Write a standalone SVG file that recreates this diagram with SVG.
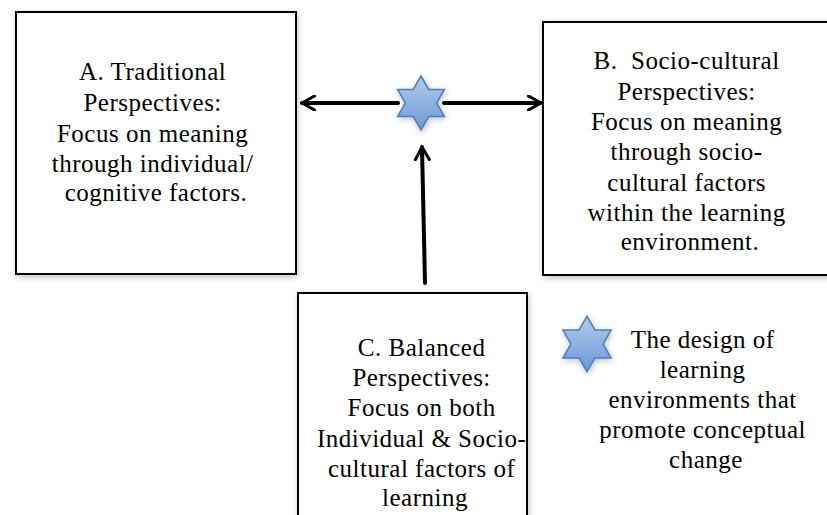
<svg xmlns="http://www.w3.org/2000/svg" width="827" height="515" viewBox="0 0 827 515">
  <defs>
    <filter id="soft" x="-10%" y="-10%" width="120%" height="120%">
      <feGaussianBlur in="SourceAlpha" stdDeviation="3"/>
      <feOffset dx="1" dy="2" result="b"/>
      <feComponentTransfer><feFuncA type="linear" slope="0.25"/></feComponentTransfer>
      <feMerge><feMergeNode/><feMergeNode in="SourceGraphic"/></feMerge>
    </filter>
    <linearGradient id="starFill" x1="0" y1="0" x2="0" y2="1">
      <stop offset="0" stop-color="#b4cbec"/>
      <stop offset="1" stop-color="#6a98d6"/>
    </linearGradient>
    <marker id="head" viewBox="0 0 12 12" refX="10" refY="6" markerWidth="4.2" markerHeight="4.2" orient="auto-start-reverse" markerUnits="strokeWidth">
      <path d="M1,1 L10,6 L1,11" fill="none" stroke="#000" stroke-width="2.2" stroke-linecap="round" stroke-linejoin="round"/>
    </marker>
    <!-- six-pointed star, radius 27, points up and down -->
    <polygon id="hexagram" points="0,-27 7.8,-13.5 23.4,-13.5 15.6,0 23.4,13.5 7.8,13.5 0,27 -7.8,13.5 -23.4,13.5 -15.6,0 -23.4,-13.5 -7.8,-13.5"/>
  </defs>
  <style>
    .box { fill: #ffffff; stroke: #000000; stroke-width: 2; }
    .label { font-family: "Liberation Serif", "Times New Roman", serif; font-size: 25px; fill: #000000; text-anchor: middle; letter-spacing: 0.5px; }
    .conn { stroke: #000000; stroke-width: 4; fill: none; stroke-linecap: round; }
    .star { fill: url(#starFill); stroke: #4a7ebb; stroke-width: 1.5; stroke-linejoin: miter; }
  </style>

  <rect width="827" height="515" fill="#ffffff"/>

  <g id="nodeA">
    <rect class="box" x="16" y="12" width="280" height="262" filter="url(#soft)"/>
    <text class="label">
      <tspan x="156" y="80">A. Traditional</tspan>
      <tspan x="156" y="111">Perspectives:</tspan>
      <tspan x="156" y="142">Focus on meaning</tspan>
      <tspan x="156" y="172">through individual/</tspan>
      <tspan x="156" y="201">cognitive factors.</tspan>
    </text>
  </g>

  <g id="nodeB">
    <rect class="box" x="543" y="22" width="290" height="253" filter="url(#soft)"/>
    <text class="label">
      <tspan x="690" y="69">B.&#160; Socio-cultural</tspan>
      <tspan x="690" y="100">Perspectives:</tspan>
      <tspan x="690" y="130">Focus on meaning</tspan>
      <tspan x="690" y="160">through socio-</tspan>
      <tspan x="690" y="191">cultural factors</tspan>
      <tspan x="690" y="221">within the learning</tspan>
      <tspan x="690" y="250">environment.</tspan>
    </text>
  </g>

  <g id="nodeC">
    <rect class="box" x="298" y="293" width="229" height="240" filter="url(#soft)"/>
    <text class="label">
      <tspan x="425" y="356">C. Balanced</tspan>
      <tspan x="425" y="386">Perspectives:</tspan>
      <tspan x="425" y="416">Focus on both</tspan>
      <tspan x="425" y="447">Individual &amp; Socio-</tspan>
      <tspan x="425" y="477">cultural factors of</tspan>
      <tspan x="425" y="506">learning</tspan>
    </text>
  </g>

  <g id="connectors">
    <line class="conn" x1="398" y1="103" x2="302" y2="103" marker-end="url(#head)"/>
    <line class="conn" x1="444" y1="103" x2="541" y2="103" marker-end="url(#head)"/>
    <line class="conn" x1="425" y1="283" x2="422" y2="147" marker-end="url(#head)"/>
  </g>

  <g id="centerStar">
    <use href="#hexagram" class="star" transform="translate(421,103)" filter="url(#soft)"/>
  </g>

  <g id="legend">
    <use href="#hexagram" class="star" transform="translate(587,344) scale(1.03)" filter="url(#soft)"/>
    <text class="label">
      <tspan x="706" y="348">The design of</tspan>
      <tspan x="706" y="378">learning</tspan>
      <tspan x="706" y="408">environments that</tspan>
      <tspan x="706" y="438">promote conceptual</tspan>
      <tspan x="706" y="468">change</tspan>
    </text>
  </g>
</svg>
